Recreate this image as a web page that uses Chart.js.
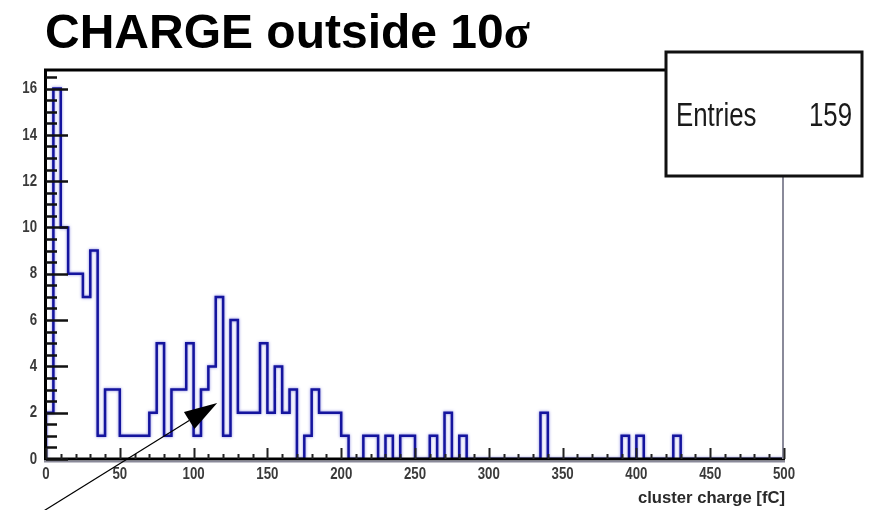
<!DOCTYPE html>
<html>
<head>
<meta charset="utf-8">
<title>CHARGE outside 10σ</title>
<script src="https://cdn.jsdelivr.net/npm/chart.js@4.4.0/dist/chart.umd.min.js"></script>
<style>
  html, body { margin: 0; padding: 0; background: #fff; }
  #wrap { width: 869px; height: 510px; }
</style>
</head>
<body>
<div id="wrap"><canvas id="chargeChart" width="869" height="510"></canvas></div>
<script>
// Cluster charge histogram, 5 fC bins between 0 and 500 fC
const chargeRange = [0, 500];
const binWidth = 5;
const binCounts = [
    2, 16, 10, 8, 8, 7, 9, 1, 3, 3,
    1, 1, 1, 1, 2, 5, 1, 3, 3, 5,
    1, 3, 4, 7, 1, 6, 2, 2, 2, 5,
    2, 4, 2, 3, 0, 1, 3, 2, 2, 2,
    1, 0, 0, 1, 1, 0, 1, 0, 1, 1,
    0, 0, 1, 0, 2, 0, 1, 0, 0, 0,
    0, 0, 0, 0, 0, 0, 0, 2, 0, 0,
    0, 0, 0, 0, 0, 0, 0, 0, 1, 0,
    1, 0, 0, 0, 0, 1, 0, 0, 0, 0,
    0, 0, 0, 0, 0, 0, 0, 0, 0, 0
];
const xTickLabels = ['0', '50', '100', '150', '200', '250', '300', '350', '400', '450', '500'];
const yTickLabels = ['0', '2', '4', '6', '8', '10', '12', '14', '16'];
const yMax = 16.8;

const titleText = 'CHARGE outside 10';
const titleSymbol = 'σ';
const axisTitle = 'cluster charge [fC]';
const statsLabel = 'Entries';

// arrow annotation, in data units
const arrowTip = { x: 116, y: 2.42 };
const arrowTail = { x: -3, y: -2.3 };

// outline points: each point carries the count of the bin ending at its x
const outline = [{ x: chargeRange[0], y: 0 }];
binCounts.forEach((c, i) => outline.push({ x: chargeRange[0] + (i + 1) * binWidth, y: c }));
outline.push({ x: chargeRange[1], y: 0 });

const entries = binCounts.reduce((a, b) => a + b, 0);

function squeezed(ctx, text, x, y, sx, align) {
    ctx.save();
    ctx.translate(x, y);
    ctx.scale(sx, 1);
    ctx.textAlign = align;
    ctx.fillText(text, 0, 0);
    ctx.restore();
}

const rootFrame = {
    id: 'rootFrame',
    beforeDatasetDraw(chart) {
        const ctx = chart.ctx;
        ctx.save();
        ctx.shadowColor = 'rgba(100, 100, 215, 0.8)';
        ctx.shadowBlur = 3;
    },
    afterDatasetDraw(chart) {
        chart.ctx.restore();
    },
    afterDatasetsDraw(chart) {
        const ctx = chart.ctx;
        const { left, right, top, bottom } = chart.chartArea;
        const xs = chart.scales.x, ys = chart.scales.y;
        ctx.save();

        // frame: top and left black, bottom black with grey edge, right grey
        ctx.strokeStyle = '#000';
        ctx.lineWidth = 3;
        ctx.beginPath();
        ctx.moveTo(left - 2, top);
        ctx.lineTo(right, top);
        ctx.moveTo(left - 0.5, top);
        ctx.lineTo(left - 0.5, bottom + 1);
        ctx.moveTo(left - 2, bottom);
        ctx.lineTo(right + 1, bottom);
        ctx.stroke();
        ctx.strokeStyle = '#8a8a9a';
        ctx.lineWidth = 2;
        ctx.beginPath();
        ctx.moveTo(left - 2, bottom + 2.5);
        ctx.lineTo(right + 1, bottom + 2.5);
        ctx.moveTo(right - 1, top);
        ctx.lineTo(right - 1, bottom);
        ctx.stroke();

        // y ticks: majors every 2, minors every 0.5
        ctx.strokeStyle = '#111';
        ctx.lineWidth = 2.5;
        ctx.beginPath();
        for (let v = 0; v <= yMax + 1e-6; v += 0.5) {
            const py = Math.round(ys.getPixelForValue(v)) + 0.5;
            const major = yTickLabels.includes(String(v));
            ctx.moveTo(left, py);
            ctx.lineTo(left + (major ? 22 : 11), py);
        }
        ctx.stroke();

        // x ticks: majors every 50, minors every 10
        ctx.strokeStyle = '#222';
        ctx.lineWidth = 2;
        ctx.beginPath();
        for (let v = chargeRange[0]; v <= chargeRange[1]; v += 10) {
            const px = Math.round(xs.getPixelForValue(v)) + 0.5;
            const major = xTickLabels.includes(String(v));
            ctx.moveTo(px, bottom);
            ctx.lineTo(px, bottom - (major ? 11 : 5));
        }
        ctx.stroke();

        // tick labels
        ctx.fillStyle = '#3a3a3a';
        ctx.font = 'bold 17px "Liberation Sans"';
        ctx.textBaseline = 'middle';
        yTickLabels.forEach(t => squeezed(ctx, t, left - 9, ys.getPixelForValue(Number(t)), 0.78, 'right'));
        xTickLabels.forEach(t => squeezed(ctx, t, xs.getPixelForValue(Number(t)), bottom + 15, 0.78, 'center'));

        // axis title
        ctx.fillStyle = '#2a2a2a';
        ctx.font = 'bold 16px "Liberation Sans"';
        ctx.textBaseline = 'alphabetic';
        squeezed(ctx, axisTitle, right + 1, bottom + 44, 1.04, 'right');

        // statistics box
        const bx = 666, by = 52, bw = 196, bh = 124;
        ctx.fillStyle = '#fff';
        ctx.fillRect(bx, by, bw, bh);
        ctx.strokeStyle = '#111';
        ctx.lineWidth = 3;
        ctx.strokeRect(bx, by, bw, bh);
        ctx.fillStyle = '#1a1a1a';
        ctx.font = '34px "Liberation Sans"';
        squeezed(ctx, statsLabel, bx + 10, by + 74, 0.76, 'left');
        squeezed(ctx, String(entries), bx + bw - 10, by + 74, 0.76, 'right');

        // title
        ctx.fillStyle = '#000';
        ctx.textAlign = 'left';
        ctx.font = 'bold 48px "Liberation Sans"';
        ctx.fillText(titleText, 45, 48);
        const tw = ctx.measureText(titleText).width;
        ctx.font = 'bold 48px "Liberation Serif"';
        ctx.fillText(titleSymbol, 45 + tw, 48);

        // arrow
        const tx = xs.getPixelForValue(arrowTip.x), ty = ys.getPixelForValue(arrowTip.y);
        const sx = xs.getPixelForValue(arrowTail.x), sy = ys.getPixelForValue(arrowTail.y);
        const ang = Math.atan2(ty - sy, tx - sx);
        const headLen = 33, headHalf = 10;
        const baseX = tx - headLen * Math.cos(ang), baseY = ty - headLen * Math.sin(ang);
        ctx.strokeStyle = '#000';
        ctx.lineWidth = 1.2;
        ctx.beginPath();
        ctx.moveTo(sx, sy);
        ctx.lineTo(baseX, baseY);
        ctx.stroke();
        ctx.fillStyle = '#000';
        ctx.beginPath();
        ctx.moveTo(tx, ty);
        ctx.lineTo(baseX + headHalf * Math.sin(ang), baseY - headHalf * Math.cos(ang));
        ctx.lineTo(baseX - headHalf * Math.sin(ang), baseY + headHalf * Math.cos(ang));
        ctx.closePath();
        ctx.fill();

        ctx.restore();
    }
};

new Chart(document.getElementById('chargeChart'), {
    type: 'line',
    data: {
        datasets: [{
            label: 'cluster charge',
            data: outline,
            stepped: 'after',
            borderColor: '#14149e',
            borderWidth: 2.5,
            pointRadius: 0,
            fill: false
        }]
    },
    options: {
        responsive: false,
        animation: false,
        devicePixelRatio: 1,
        layout: { padding: { left: 46, right: 85, top: 70, bottom: 51 } },
        plugins: {
            legend: { display: false },
            tooltip: { enabled: false },
            title: { display: false }
        },
        scales: {
            x: { type: 'linear', min: chargeRange[0], max: chargeRange[1], display: false },
            y: { min: 0, max: yMax, display: false }
        }
    },
    plugins: [rootFrame]
});
</script>
</body>
</html>
